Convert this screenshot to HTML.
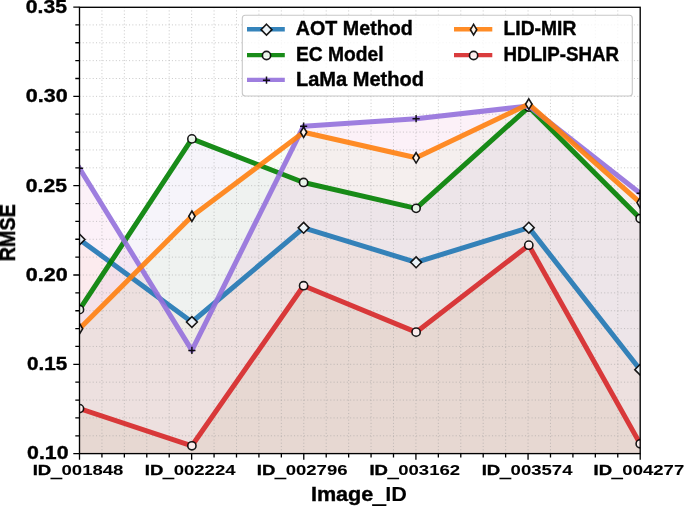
<!DOCTYPE html><html><head><meta charset="utf-8"><style>html,body{margin:0;padding:0;background:#fff;overflow:hidden}svg{display:block}text{font-family:"Liberation Sans",sans-serif;font-weight:bold;font-size:100px;fill:#000;stroke:#000;stroke-width:0.4px;vector-effect:non-scaling-stroke}</style></head><body>
<svg width="685" height="506" viewBox="0 0 685 506">
<defs><clipPath id="ax"><rect x="79.5" y="7.1" width="560.70" height="446.50"/></clipPath></defs>
<rect width="685" height="506" fill="#fff"/>
<g clip-path="url(#ax)">
<polygon points="79.5,455.6 79.5,239.45 191.9,321.98 303.6,227.84 416.1,262.32 528.8,227.66 640.2,369.68 640.2,455.6" fill="rgb(255,120,0)" fill-opacity="0.045"/>
<polygon points="79.5,455.6 79.5,309.66 191.9,138.88 303.6,182.46 416.1,208.37 528.8,107.08 640.2,218.55 640.2,455.6" fill="rgb(122,96,180)" fill-opacity="0.07"/>
<polygon points="79.5,455.6 79.5,168.35 191.9,350.39 303.6,126.19 416.1,118.69 528.8,106.01 640.2,193.36 640.2,455.6" fill="rgb(222,121,185)" fill-opacity="0.1"/>
<polygon points="79.5,455.6 79.5,328.77 191.9,216.23 303.6,132.27 416.1,157.81 528.8,104.04 640.2,202.65 640.2,455.6" fill="rgb(74,197,0)" fill-opacity="0.04"/>
<polygon points="79.5,455.6 79.5,408.62 191.9,445.78 303.6,285.72 416.1,332.16 528.8,245.17 640.2,443.81 640.2,455.6" fill="rgb(143,105,20)" fill-opacity="0.06"/>
</g>
<path d="M79.5 435.78H640.2M79.5 417.91H640.2M79.5 400.05H640.2M79.5 382.18H640.2M79.5 364.32H640.2M79.5 346.46H640.2M79.5 328.59H640.2M79.5 310.73H640.2M79.5 292.86H640.2M79.5 275.00H640.2M79.5 257.14H640.2M79.5 239.27H640.2M79.5 221.41H640.2M79.5 203.54H640.2M79.5 185.68H640.2M79.5 167.82H640.2M79.5 149.95H640.2M79.5 132.09H640.2M79.5 114.22H640.2M79.5 96.36H640.2M79.5 78.50H640.2M79.5 60.63H640.2M79.5 42.77H640.2M79.5 24.90H640.2M101.93 7.1V453.6M124.36 7.1V453.6M146.78 7.1V453.6M169.21 7.1V453.6M191.64 7.1V453.6M214.07 7.1V453.6M236.50 7.1V453.6M258.92 7.1V453.6M281.35 7.1V453.6M303.78 7.1V453.6M326.21 7.1V453.6M348.64 7.1V453.6M371.06 7.1V453.6M393.49 7.1V453.6M415.92 7.1V453.6M438.35 7.1V453.6M460.78 7.1V453.6M483.20 7.1V453.6M505.63 7.1V453.6M528.06 7.1V453.6M550.49 7.1V453.6M572.92 7.1V453.6M595.34 7.1V453.6M617.77 7.1V453.6" stroke="#999" stroke-opacity="0.5" stroke-width="1" stroke-dasharray="1.05 2.25" fill="none"/>
<g clip-path="url(#ax)">
<polyline points="79.5,239.45 191.9,321.98 303.6,227.84 416.1,262.32 528.8,227.66 640.2,369.68" fill="none" stroke="#1f77b4" stroke-opacity="0.9" stroke-width="5.0" stroke-linejoin="round" stroke-linecap="square"/>
<path d="M79.5 234.05L84.9 239.45L79.5 244.85L74.1 239.45Z" fill="#fff" fill-opacity="0.9" stroke="#000" stroke-opacity="0.9" stroke-width="1.6" stroke-linejoin="miter"/>
<path d="M191.9 316.58L197.3 321.98L191.9 327.38L186.5 321.98Z" fill="#fff" fill-opacity="0.9" stroke="#000" stroke-opacity="0.9" stroke-width="1.6" stroke-linejoin="miter"/>
<path d="M303.6 222.44L309 227.84L303.6 233.24L298.2 227.84Z" fill="#fff" fill-opacity="0.9" stroke="#000" stroke-opacity="0.9" stroke-width="1.6" stroke-linejoin="miter"/>
<path d="M416.1 256.92L421.5 262.32L416.1 267.72L410.7 262.32Z" fill="#fff" fill-opacity="0.9" stroke="#000" stroke-opacity="0.9" stroke-width="1.6" stroke-linejoin="miter"/>
<path d="M528.8 222.26L534.2 227.66L528.8 233.06L523.4 227.66Z" fill="#fff" fill-opacity="0.9" stroke="#000" stroke-opacity="0.9" stroke-width="1.6" stroke-linejoin="miter"/>
<path d="M640.2 364.28L645.6 369.68L640.2 375.08L634.8 369.68Z" fill="#fff" fill-opacity="0.9" stroke="#000" stroke-opacity="0.9" stroke-width="1.6" stroke-linejoin="miter"/>
<polyline points="79.5,309.66 191.9,138.88 303.6,182.46 416.1,208.37 528.8,107.08 640.2,218.55" fill="none" stroke="#008000" stroke-opacity="0.9" stroke-width="5.0" stroke-linejoin="round" stroke-linecap="square"/>
<circle cx="79.5" cy="309.66" r="4.1" fill="#fff" fill-opacity="0.9" stroke="#000" stroke-opacity="0.9" stroke-width="1.6"/>
<circle cx="191.9" cy="138.88" r="4.1" fill="#fff" fill-opacity="0.9" stroke="#000" stroke-opacity="0.9" stroke-width="1.6"/>
<circle cx="303.6" cy="182.46" r="4.1" fill="#fff" fill-opacity="0.9" stroke="#000" stroke-opacity="0.9" stroke-width="1.6"/>
<circle cx="416.1" cy="208.37" r="4.1" fill="#fff" fill-opacity="0.9" stroke="#000" stroke-opacity="0.9" stroke-width="1.6"/>
<circle cx="528.8" cy="107.08" r="4.1" fill="#fff" fill-opacity="0.9" stroke="#000" stroke-opacity="0.9" stroke-width="1.6"/>
<circle cx="640.2" cy="218.55" r="4.1" fill="#fff" fill-opacity="0.9" stroke="#000" stroke-opacity="0.9" stroke-width="1.6"/>
<polyline points="79.5,168.35 191.9,350.39 303.6,126.19 416.1,118.69 528.8,106.01 640.2,193.36" fill="none" stroke="#9370db" stroke-opacity="0.9" stroke-width="5.0" stroke-linejoin="round" stroke-linecap="square"/>
<path d="M75.9 168.35H83.1M79.5 164.75V171.95" fill="none" stroke="#000" stroke-opacity="0.9" stroke-width="1.5"/>
<path d="M188.3 350.39H195.5M191.9 346.79V353.99" fill="none" stroke="#000" stroke-opacity="0.9" stroke-width="1.5"/>
<path d="M300 126.19H307.2M303.6 122.59V129.79" fill="none" stroke="#000" stroke-opacity="0.9" stroke-width="1.5"/>
<path d="M412.5 118.69H419.7M416.1 115.09V122.29" fill="none" stroke="#000" stroke-opacity="0.9" stroke-width="1.5"/>
<path d="M525.2 106.01H532.4M528.8 102.41V109.61" fill="none" stroke="#000" stroke-opacity="0.9" stroke-width="1.5"/>
<path d="M636.6 193.36H643.8M640.2 189.76V196.96" fill="none" stroke="#000" stroke-opacity="0.9" stroke-width="1.5"/>
<polyline points="79.5,328.77 191.9,216.23 303.6,132.27 416.1,157.81 528.8,104.04 640.2,202.65" fill="none" stroke="#ff7f0e" stroke-opacity="0.9" stroke-width="5.0" stroke-linejoin="round" stroke-linecap="square"/>
<path d="M79.5 323.52L82.65 328.77L79.5 334.02L76.35 328.77Z" fill="#fff" fill-opacity="0.9" stroke="#000" stroke-opacity="0.9" stroke-width="1.6" stroke-linejoin="miter"/>
<path d="M191.9 210.98L195.05 216.23L191.9 221.48L188.75 216.23Z" fill="#fff" fill-opacity="0.9" stroke="#000" stroke-opacity="0.9" stroke-width="1.6" stroke-linejoin="miter"/>
<path d="M303.6 127.02L306.75 132.27L303.6 137.52L300.45 132.27Z" fill="#fff" fill-opacity="0.9" stroke="#000" stroke-opacity="0.9" stroke-width="1.6" stroke-linejoin="miter"/>
<path d="M416.1 152.56L419.25 157.81L416.1 163.06L412.95 157.81Z" fill="#fff" fill-opacity="0.9" stroke="#000" stroke-opacity="0.9" stroke-width="1.6" stroke-linejoin="miter"/>
<path d="M528.8 98.79L531.95 104.04L528.8 109.29L525.65 104.04Z" fill="#fff" fill-opacity="0.9" stroke="#000" stroke-opacity="0.9" stroke-width="1.6" stroke-linejoin="miter"/>
<path d="M640.2 197.4L643.35 202.65L640.2 207.9L637.05 202.65Z" fill="#fff" fill-opacity="0.9" stroke="#000" stroke-opacity="0.9" stroke-width="1.6" stroke-linejoin="miter"/>
<polyline points="79.5,408.62 191.9,445.78 303.6,285.72 416.1,332.16 528.8,245.17 640.2,443.81" fill="none" stroke="#d62728" stroke-opacity="0.9" stroke-width="5.0" stroke-linejoin="round" stroke-linecap="square"/>
<circle cx="79.5" cy="408.62" r="4.1" fill="#fff" fill-opacity="0.9" stroke="#000" stroke-opacity="0.9" stroke-width="1.6"/>
<circle cx="191.9" cy="445.78" r="4.1" fill="#fff" fill-opacity="0.9" stroke="#000" stroke-opacity="0.9" stroke-width="1.6"/>
<circle cx="303.6" cy="285.72" r="4.1" fill="#fff" fill-opacity="0.9" stroke="#000" stroke-opacity="0.9" stroke-width="1.6"/>
<circle cx="416.1" cy="332.16" r="4.1" fill="#fff" fill-opacity="0.9" stroke="#000" stroke-opacity="0.9" stroke-width="1.6"/>
<circle cx="528.8" cy="245.17" r="4.1" fill="#fff" fill-opacity="0.9" stroke="#000" stroke-opacity="0.9" stroke-width="1.6"/>
<circle cx="640.2" cy="443.81" r="4.1" fill="#fff" fill-opacity="0.9" stroke="#000" stroke-opacity="0.9" stroke-width="1.6"/>
</g>
<path d="M73.30 453.64H79.5M75.30 435.78H79.5M75.30 417.91H79.5M75.30 400.05H79.5M75.30 382.18H79.5M73.30 364.32H79.5M75.30 346.46H79.5M75.30 328.59H79.5M75.30 310.73H79.5M75.30 292.86H79.5M73.30 275.00H79.5M75.30 257.14H79.5M75.30 239.27H79.5M75.30 221.41H79.5M75.30 203.54H79.5M73.30 185.68H79.5M75.30 167.82H79.5M75.30 149.95H79.5M75.30 132.09H79.5M75.30 114.22H79.5M73.30 96.36H79.5M75.30 78.50H79.5M75.30 60.63H79.5M75.30 42.77H79.5M75.30 24.90H79.5M73.30 7.04H79.5" stroke="#000" stroke-width="1.3" fill="none"/>
<path d="M79.50 453.6V459.80M101.93 453.6V457.60M124.36 453.6V457.60M146.78 453.6V457.60M169.21 453.6V457.60M191.64 453.6V459.80M214.07 453.6V457.60M236.50 453.6V457.60M258.92 453.6V457.60M281.35 453.6V457.60M303.78 453.6V459.80M326.21 453.6V457.60M348.64 453.6V457.60M371.06 453.6V457.60M393.49 453.6V457.60M415.92 453.6V459.80M438.35 453.6V457.60M460.78 453.6V457.60M483.20 453.6V457.60M505.63 453.6V457.60M528.06 453.6V459.80M550.49 453.6V457.60M572.92 453.6V457.60M595.34 453.6V457.60M617.77 453.6V457.60M640.20 453.6V459.80" stroke="#000" stroke-width="1.3" fill="none"/>
<rect x="79.5" y="7.3" width="560.70" height="446.30" fill="none" stroke="#000" stroke-width="1.35"/>
<g style="will-change:transform"><text transform="translate(27.05 459.49) scale(0.2129 0.1789)">0.10</text></g>
<g style="will-change:transform"><text transform="translate(27.07 370.17) scale(0.2064 0.1789)">0.15</text></g>
<g style="will-change:transform"><text transform="translate(25.84 280.85) scale(0.2151 0.1789)">0.20</text></g>
<g style="will-change:transform"><text transform="translate(25.86 191.53) scale(0.2112 0.1789)">0.25</text></g>
<g style="will-change:transform"><text transform="translate(25.84 102.21) scale(0.2151 0.1789)">0.30</text></g>
<g style="will-change:transform"><text transform="translate(25.86 12.89) scale(0.2112 0.1789)">0.35</text></g>
<g style="will-change:transform"><text transform="translate(32.70 475.40) scale(0.1854 0.1493)">ID<tspan dy="8.7" stroke-width="6.7">_</tspan><tspan dy="-8.7">001848</tspan></text></g>
<g style="will-change:transform"><text transform="translate(144.82 475.40) scale(0.1854 0.1493)">ID<tspan dy="8.7" stroke-width="6.7">_</tspan><tspan dy="-8.7">002224</tspan></text></g>
<g style="will-change:transform"><text transform="translate(256.80 475.40) scale(0.1854 0.1493)">ID<tspan dy="8.7" stroke-width="6.7">_</tspan><tspan dy="-8.7">002796</tspan></text></g>
<g style="will-change:transform"><text transform="translate(369.39 475.40) scale(0.1854 0.1493)">ID<tspan dy="8.7" stroke-width="6.7">_</tspan><tspan dy="-8.7">003162</tspan></text></g>
<g style="will-change:transform"><text transform="translate(481.72 475.40) scale(0.1854 0.1493)">ID<tspan dy="8.7" stroke-width="6.7">_</tspan><tspan dy="-8.7">003574</tspan></text></g>
<g style="will-change:transform"><text transform="translate(593.49 475.40) scale(0.1854 0.1493)">ID<tspan dy="8.7" stroke-width="6.7">_</tspan><tspan dy="-8.7">004277</tspan></text></g>
<g style="will-change:transform"><text transform="translate(310.89 501.50) scale(0.2162 0.2101)">Image<tspan dy="7.1" stroke-width="8.6">_</tspan><tspan dy="-7.1">ID</tspan></text></g>
<g style="will-change:transform"><text transform="translate(14.8 261.39) rotate(-90) scale(0.1982 0.2129)">RMSE</text></g>
<rect x="242.3" y="15.3" width="390" height="80.7" rx="3" ry="3" fill="#fff" fill-opacity="0.8" stroke="#c8c8c8" stroke-width="1.1"/>
<path d="M247.0 29.25H284.8" stroke="#1f77b4" stroke-opacity="0.9" stroke-width="4.3" fill="none"/>
<path d="M266.5 24.25L271.9 29.65L266.5 35.05L261.1 29.65Z" fill="#fff" fill-opacity="0.9" stroke="#000" stroke-opacity="0.9" stroke-width="1.6" stroke-linejoin="miter"/>
<g style="will-change:transform"><text transform="translate(295.81 34.80) scale(0.1968 0.1971)">AOT Method</text></g>
<path d="M247.0 55.1H284.8" stroke="#008000" stroke-opacity="0.9" stroke-width="4.3" fill="none"/>
<circle cx="266.5" cy="55.5" r="4.1" fill="#fff" fill-opacity="0.9" stroke="#000" stroke-opacity="0.9" stroke-width="1.6"/>
<g style="will-change:transform"><text transform="translate(296.06 60.60) scale(0.1921 0.1971)">EC Model</text></g>
<path d="M247.0 79.8H284.8" stroke="#9370db" stroke-opacity="0.9" stroke-width="4.3" fill="none"/>
<path d="M262.9 80.2H270.1M266.5 76.6V83.8" fill="none" stroke="#000" stroke-opacity="0.9" stroke-width="1.5"/>
<g style="will-change:transform"><text transform="translate(296.00 85.50) scale(0.2003 0.1971)">LaMa Method</text></g>
<path d="M454.0 29.25H492.3" stroke="#ff7f0e" stroke-opacity="0.9" stroke-width="4.3" fill="none"/>
<path d="M473.6 24.4L476.75 29.65L473.6 34.9L470.45 29.65Z" fill="#fff" fill-opacity="0.9" stroke="#000" stroke-opacity="0.9" stroke-width="1.6" stroke-linejoin="miter"/>
<g style="will-change:transform"><text transform="translate(503.55 34.80) scale(0.1927 0.1971)">LID-MIR</text></g>
<path d="M454.0 55.1H492.3" stroke="#d62728" stroke-opacity="0.9" stroke-width="4.3" fill="none"/>
<circle cx="473.6" cy="55.5" r="4.1" fill="#fff" fill-opacity="0.9" stroke="#000" stroke-opacity="0.9" stroke-width="1.6"/>
<g style="will-change:transform"><text transform="translate(503.59 60.60) scale(0.1875 0.1971)">HDLIP-SHAR</text></g>
</svg></body></html>
